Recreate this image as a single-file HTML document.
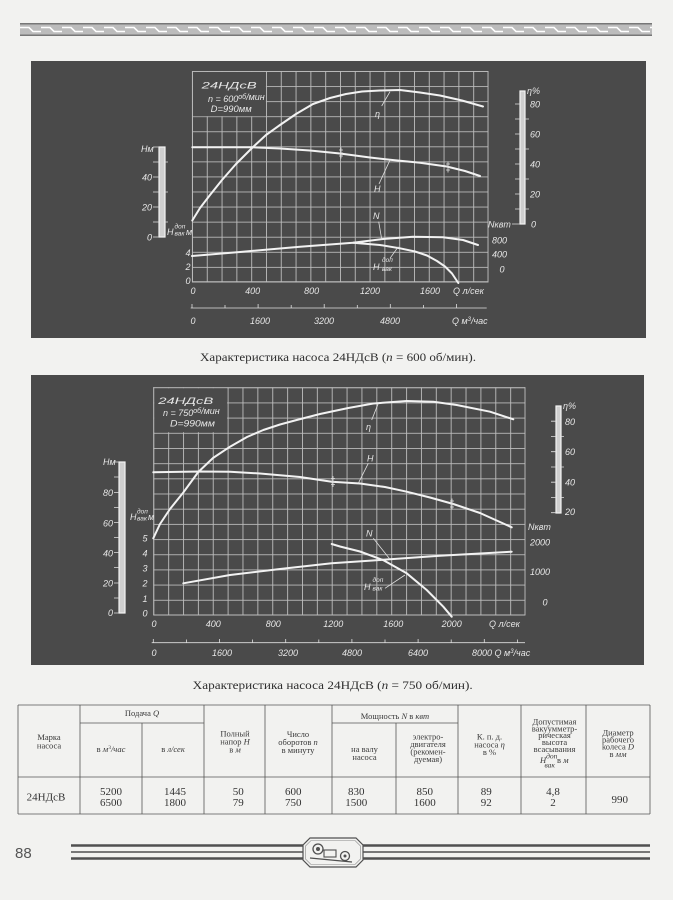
<!DOCTYPE html>
<html><head><meta charset="utf-8">
<style>
html,body{margin:0;padding:0;background:#f2f2f0;}
svg{display:block}
.ct{fill:#e6e6e6;font-family:"Liberation Sans",sans-serif;font-style:italic;font-size:9px;}
.cs{fill:#e6e6e6;font-family:"Liberation Sans",sans-serif;font-style:italic;font-size:6.5px;}
.tb{fill:#3a3a3a;font-family:"Liberation Serif",serif;font-size:8.5px;}
.td{fill:#333;font-family:"Liberation Serif",serif;font-size:11px;}
.cap{fill:#2e2e2e;font-family:"Liberation Serif",serif;font-size:12px;}
.cv{fill:none;stroke:#f2f2f2;stroke-width:2;stroke-linejoin:round;stroke-linecap:round;}
.ld{fill:none;stroke:#e0e0e0;stroke-width:0.8;}
.gl{stroke:#bdbdbd;stroke-width:0.9;fill:none;}
.tl{stroke:#555;stroke-width:0.8;}
</style></head><body>
<svg width="673" height="900" viewBox="0 0 673 900" xmlns="http://www.w3.org/2000/svg">
<defs>
<pattern id="chain" x="20" y="23" width="21" height="13" patternUnits="userSpaceOnUse">
<path d="M0 4.5 H9 L13 8.5 H21" stroke="#ffffff" stroke-width="1.6" fill="none"/>
</pattern>
<pattern id="g1" x="192" y="71" width="14.8" height="15.07" patternUnits="userSpaceOnUse">
<path d="M0 0.45 H14.8 M0.45 0 V15.07" stroke="#bdbdbd" stroke-width="0.9" fill="none"/>
</pattern>
<pattern id="g2" x="153.3" y="387.3" width="14.87" height="15.18" patternUnits="userSpaceOnUse">
<path d="M0 0.45 H14.87 M0.45 0 V15.18" stroke="#bdbdbd" stroke-width="0.9" fill="none"/>
</pattern>
</defs>

<!-- top border -->
<rect x="20" y="23" width="632" height="13" fill="#bcbcbc"/>
<rect x="20" y="23" width="632" height="13" fill="url(#chain)"/>
<line x1="20" y1="23.8" x2="652" y2="23.8" stroke="#777" stroke-width="1.5"/>
<line x1="20" y1="35.2" x2="652" y2="35.2" stroke="#777" stroke-width="1.5"/>

<!-- ================= PANEL 1 ================= -->
<rect x="31" y="61" width="615" height="277" fill="#4a4a4a"/>
<rect x="192" y="71" width="296.5" height="211.5" fill="url(#g1)"/>
<rect x="192.9" y="71.9" width="73" height="44.3" fill="#4a4a4a"/>
<line class="gl" x1="488" y1="71" x2="488" y2="282"/>
<line class="gl" x1="192" y1="281.7" x2="488.5" y2="281.7"/>
<line class="gl" x1="192.4" y1="71" x2="192.4" y2="282"/>
<line class="gl" x1="192" y1="71.4" x2="488" y2="71.4"/>

<text class="ct" x="201.7" y="88.5" font-size="15" textLength="55" lengthAdjust="spacingAndGlyphs">24НДсВ</text>
<text class="ct" x="208" y="102">n = 600<tspan font-size="7" dy="-3">об</tspan><tspan dy="1">/мин</tspan></text>
<text class="ct" x="210.7" y="112" textLength="41" lengthAdjust="spacingAndGlyphs">D=990мм</text>

<!-- H bar -->
<rect x="159" y="147" width="6" height="90" fill="#cfcfcf" stroke="#f4f4f4" stroke-width="1.2"/>
<path class="ld" stroke-width="1" d="M153 147H159 M153 162H159 M153 177H159 M153 192H159 M153 207H159 M153 222H159 M153 237H159 M165 162H168 M165 192H168 M165 222H168"/>
<text class="ct" x="141" y="152">Нм</text>
<text class="ct" x="152" y="180.5" text-anchor="end">40</text>
<text class="ct" x="152" y="210.5" text-anchor="end">20</text>
<text class="ct" x="152" y="240.5" text-anchor="end">0</text>
<text class="ct" x="167" y="235">H</text>
<text class="cs" x="174.5" y="228.5">доп</text>
<text class="cs" x="174.5" y="235.5">вак</text>
<text class="ct" x="186" y="235" font-size="7.5">м</text>
<text class="ct" x="188" y="256" text-anchor="middle">4</text>
<text class="ct" x="188" y="270" text-anchor="middle">2</text>
<text class="ct" x="188" y="284" text-anchor="middle">0</text>

<!-- eta bar -->
<rect x="520" y="91" width="5" height="133" fill="#cfcfcf" stroke="#f4f4f4" stroke-width="1.2"/>
<path class="ld" stroke-width="1" d="M515 224H520 M515 209H520 M515 194H520 M515 179H520 M515 164H520 M515 149H520 M515 134H520 M515 119H520 M515 104H520 M525 209H529 M525 179H529 M525 149H529 M525 119H529 M512 224H520"/>
<text class="ct" x="527" y="94">η%</text>
<text class="ct" x="530" y="107.5">80</text>
<text class="ct" x="530" y="137.5">60</text>
<text class="ct" x="530" y="167.5">40</text>
<text class="ct" x="530" y="197.5">20</text>
<text class="ct" x="531" y="227.5">0</text>
<text class="ct" x="488" y="227.5">Nквт</text>
<text class="ct" x="499.5" y="243.5" text-anchor="middle">800</text>
<text class="ct" x="499.5" y="257.5" text-anchor="middle">400</text>
<text class="ct" x="502" y="272.5" text-anchor="middle">0</text>

<!-- Q axes -->
<text class="ct" x="193" y="294" text-anchor="middle">0</text>
<text class="ct" x="252.7" y="294" text-anchor="middle">400</text>
<text class="ct" x="311.7" y="294" text-anchor="middle">800</text>
<text class="ct" x="370" y="294" text-anchor="middle">1200</text>
<text class="ct" x="430" y="294" text-anchor="middle">1600</text>
<text class="ct" x="453" y="294">Q л/сек</text>
<line class="ld" stroke-width="1" x1="190.7" y1="308" x2="486.7" y2="308"/>
<path class="ld" stroke-width="1" d="M192 304V308 M225 305V308 M258.1 304V308 M291.2 305V308 M324.2 304V308 M357.3 305V308 M390.3 304V308 M423.4 305V308 M456.4 304V308"/>
<text class="ct" x="193" y="324" text-anchor="middle">0</text>
<text class="ct" x="260" y="324" text-anchor="middle">1600</text>
<text class="ct" x="324" y="324" text-anchor="middle">3200</text>
<text class="ct" x="390" y="324" text-anchor="middle">4800</text>
<text class="ct" x="452" y="324">Q м<tspan font-size="6" dy="-3">3</tspan><tspan dy="3">/час</tspan></text>

<!-- curves chart 1 -->
<path class="cv" d="M192.3 220.5 L200 208 L210 195 L222 180 L236 164 L252 148 L266 135 L280 125 L296 114 L313 104 L330 98 L346 94 L362 91.5 L380 90.5 L400 90 L420 92.5 L440 95.5 L462 100.5 L483 106.5"/>
<path class="cv" d="M192.3 147.3 L252 147.3 L280 148.5 L310 150.5 L340 153.5 L370 157.5 L390 159.8 L420 162.8 L446.7 166.5 L465 171 L480 176"/>
<path class="cv" d="M192 256 L240 252 L300 246.7 L353 242.7 L383 239 L413 236.7 L443 237.3 L463 240 L478 245"/>
<path class="cv" d="M353 242.7 L380 245 L400 248.3 L415 251.5 L427 255.5 L437 261 L445 266.5 L452 273.5 L458.3 283"/>
<path class="ld" d="M341 147.5V158.5 M339 150H343 M339 153H343 M339 156H343 M448 161.5V172.5 M446 164H450 M446 167H450 M446 170H450"/>
<text class="ct" x="375" y="117">η</text>
<path class="ld" d="M381.7 106 L390 91.7"/>
<text class="ct" x="374" y="192">H</text>
<path class="ld" d="M379 184 L390 160"/>
<text class="ct" x="373" y="219">N</text>
<path class="ld" d="M378.7 221.7 L381.7 239.3"/>
<text class="ct" x="373" y="270">H</text>
<text class="cs" x="382" y="262">доп</text>
<text class="cs" x="382" y="271">вак</text>
<path class="ld" d="M390 258.3 L398.3 246.7"/>

<!-- caption 1 -->
<text class="cap" x="200" y="361" textLength="276" lengthAdjust="spacingAndGlyphs">Характеристика насоса 24НДсВ (<tspan font-style="italic">n</tspan> = 600 об/мин).</text>

<!-- ================= PANEL 2 ================= -->
<rect x="31" y="375" width="613" height="290" fill="#4a4a4a"/>
<rect x="153.3" y="387.3" width="372" height="228" fill="url(#g2)"/>
<rect x="154.2" y="388.2" width="72.9" height="44" fill="#4a4a4a"/>
<line class="gl" x1="525" y1="387.3" x2="525" y2="615"/>
<line class="gl" x1="153.3" y1="615" x2="525.4" y2="615"/>
<line class="gl" x1="153.7" y1="387.3" x2="153.7" y2="615"/>
<line class="gl" x1="153.3" y1="387.7" x2="525" y2="387.7"/>

<text class="ct" x="158.3" y="404" font-size="15" textLength="55" lengthAdjust="spacingAndGlyphs">24НДсВ</text>
<text class="ct" x="163" y="416">n = 750<tspan font-size="7" dy="-3">об</tspan><tspan dy="1">/мин</tspan></text>
<text class="ct" x="170" y="426.5" textLength="45" lengthAdjust="spacingAndGlyphs">D=990мм</text>

<!-- H bar 2 -->
<rect x="119" y="462" width="6" height="151" fill="#cfcfcf" stroke="#f4f4f4" stroke-width="1.2"/>
<path class="ld" stroke-width="1" d="M114 462H119 M114 477H119 M114 492.5H119 M114 507.5H119 M114 522.5H119 M114 537.5H119 M114 552.5H119 M114 567.5H119 M114 583H119 M114 598H119 M114 613H119"/>
<text class="ct" x="103" y="465">Нм</text>
<text class="ct" x="113" y="496" text-anchor="end">80</text>
<text class="ct" x="113" y="526.5" text-anchor="end">60</text>
<text class="ct" x="113" y="556.5" text-anchor="end">40</text>
<text class="ct" x="113" y="586.5" text-anchor="end">20</text>
<text class="ct" x="113" y="616" text-anchor="end">0</text>
<text class="ct" x="130" y="520">H</text>
<text class="cs" x="137" y="513.5">доп</text>
<text class="cs" x="137" y="520.5">вак</text>
<text class="ct" x="148" y="520" font-size="7.5">м</text>
<text class="ct" x="145" y="541.5" text-anchor="middle">5</text>
<text class="ct" x="145" y="556.5" text-anchor="middle">4</text>
<text class="ct" x="145" y="571.5" text-anchor="middle">3</text>
<text class="ct" x="145" y="586.5" text-anchor="middle">2</text>
<text class="ct" x="145" y="602" text-anchor="middle">1</text>
<text class="ct" x="145" y="616.5" text-anchor="middle">0</text>

<!-- eta bar 2 -->
<rect x="556" y="406" width="5" height="107" fill="#cfcfcf" stroke="#f4f4f4" stroke-width="1.2"/>
<path class="ld" stroke-width="1" d="M551 512.7H556 M551 497.5H556 M551 482.2H556 M551 467H556 M551 451.7H556 M551 436.5H556 M551 421.2H556 M561 497.5H564 M561 467H564 M561 436.5H564"/>
<text class="ct" x="563" y="409">η%</text>
<text class="ct" x="565" y="425">80</text>
<text class="ct" x="565" y="455">60</text>
<text class="ct" x="565" y="485.5">40</text>
<text class="ct" x="565" y="515">20</text>
<text class="ct" x="528" y="530">Nквт</text>
<text class="ct" x="540" y="545.5" text-anchor="middle">2000</text>
<text class="ct" x="540" y="575" text-anchor="middle">1000</text>
<text class="ct" x="545" y="605.5" text-anchor="middle">0</text>

<!-- Q axes 2 -->
<text class="ct" x="154" y="627" text-anchor="middle">0</text>
<text class="ct" x="213.3" y="627" text-anchor="middle">400</text>
<text class="ct" x="273.3" y="627" text-anchor="middle">800</text>
<text class="ct" x="333.3" y="627" text-anchor="middle">1200</text>
<text class="ct" x="393.3" y="627" text-anchor="middle">1600</text>
<text class="ct" x="451.7" y="627" text-anchor="middle">2000</text>
<text class="ct" x="489" y="627">Q л/сек</text>
<line class="ld" stroke-width="1" x1="151.7" y1="642.7" x2="525" y2="642.7"/>
<path class="ld" stroke-width="1" d="M153.3 639V642.7 M186.4 639.5V642.7 M219.5 639V642.7 M252.6 639.5V642.7 M285.7 639V642.7 M318.8 639.5V642.7 M351.9 639V642.7 M385 639.5V642.7 M418.1 639V642.7 M451.2 639.5V642.7 M484.3 639V642.7 M517.4 639.5V642.7"/>
<text class="ct" x="154" y="656" text-anchor="middle">0</text>
<text class="ct" x="222" y="656" text-anchor="middle">1600</text>
<text class="ct" x="288" y="656" text-anchor="middle">3200</text>
<text class="ct" x="352" y="656" text-anchor="middle">4800</text>
<text class="ct" x="418" y="656" text-anchor="middle">6400</text>
<text class="ct" x="472" y="656">8000 Q м<tspan font-size="6" dy="-3">3</tspan><tspan dy="3">/час</tspan></text>

<!-- curves chart 2 -->
<path class="cv" d="M153.3 538.3 L160 524 L170 509 L183.3 492.5 L198.3 472 L213 458 L230 446.7 L247 437 L263.3 430 L280 424.5 L296.7 420 L320 414 L348.3 408 L373.3 403.5 L406.7 401 L433.3 401.7 L456.7 405 L490 411.7 L513.3 419.3"/>
<path class="cv" d="M153.3 472.3 L200 471.5 L230 471.7 L260 473.5 L300 477 L331.7 481.7 L360 483.5 L385 487 L406.7 491.7 L430 497.5 L453.3 504 L480 513 L511.7 527.3"/>
<path class="cv" d="M183.3 583.3 L230 575 L280 569 L331.7 563.3 L390 559.3 L440 555.7 L511.7 551.7"/>
<path class="cv" d="M331.7 544 L340 546.5 L360 551.5 L383 560 L406.7 573.3 L426.7 590 L443.3 606.7 L451.7 616.7"/>
<path class="ld" d="M333 476V487 M331 478.5H335 M331 481.5H335 M331 484.5H335 M452 498.5V509.5 M450 501H454 M450 504H454 M450 507H454"/>
<text class="ct" x="366" y="430">η</text>
<path class="ld" d="M371.7 420 L378.3 403.3"/>
<text class="ct" x="367" y="461.5">H</text>
<path class="ld" d="M368.3 463.3 L358.3 483.3"/>
<text class="ct" x="366" y="536.5">N</text>
<path class="ld" d="M373.3 538.3 L390 559.3"/>
<text class="ct" x="364" y="590">H</text>
<text class="cs" x="372.5" y="582">доп</text>
<text class="cs" x="372.5" y="590.5">вак</text>
<path class="ld" d="M385 588.3 L405 575"/>

<!-- caption 2 -->
<text class="cap" x="192.7" y="689" textLength="280" lengthAdjust="spacingAndGlyphs">Характеристика насоса 24НДсВ (<tspan font-style="italic">n</tspan> = 750 об/мин).</text>

<!-- ================= TABLE ================= -->
<line class="tl" x1="18" y1="705" x2="650" y2="705" stroke-width="1"/>
<line class="tl" x1="80" y1="723" x2="204" y2="723" stroke-width="0.6"/>
<line class="tl" x1="332" y1="723" x2="458" y2="723" stroke-width="0.6"/>
<line class="tl" x1="18" y1="777" x2="650" y2="777" stroke-width="1"/>
<line class="tl" x1="18" y1="814" x2="650" y2="814" stroke-width="1.3"/>
<path class="tl" d="M80 705V814 M204 705V814 M265 705V814 M332 705V814 M458 705V814 M521 705V814 M586 705V814 M142 723V814 M396 723V814"/>
<path class="tl" stroke="#999" stroke-width="0.6" d="M18 705V814 M650 705V814"/>

<text class="tb" text-anchor="middle"><tspan x="49" y="740">Марка</tspan><tspan x="49" y="748.5">насоса</tspan></text>
<text class="tb" x="142" y="716" text-anchor="middle">Подача <tspan font-style="italic">Q</tspan></text>
<text class="tb" x="111" y="752" text-anchor="middle">в <tspan font-style="italic">м</tspan><tspan font-size="5.5" dy="-3">3</tspan><tspan dy="3" font-style="italic">/час</tspan></text>
<text class="tb" x="173" y="752" text-anchor="middle">в <tspan font-style="italic">л/сек</tspan></text>
<text class="tb" text-anchor="middle"><tspan x="235" y="736.5">Полный</tspan><tspan x="235" y="744.5">напор <tspan font-style="italic">H</tspan></tspan><tspan x="235" y="752.5">в <tspan font-style="italic">м</tspan></tspan></text>
<text class="tb" text-anchor="middle"><tspan x="298" y="737">Число</tspan><tspan x="298" y="745">оборотов <tspan font-style="italic">n</tspan></tspan><tspan x="298" y="753">в минуту</tspan></text>
<text class="tb" x="395" y="719" text-anchor="middle">Мощность <tspan font-style="italic">N</tspan> в <tspan font-style="italic">квт</tspan></text>
<text class="tb" text-anchor="middle"><tspan x="364.5" y="752">на валу</tspan><tspan x="364.5" y="760">насоса</tspan></text>
<text class="tb" text-anchor="middle"><tspan x="428" y="739.5">электро-</tspan><tspan x="428" y="747">двигателя</tspan><tspan x="428" y="754.5">(рекомен-</tspan><tspan x="428" y="762">дуемая)</tspan></text>
<text class="tb" text-anchor="middle"><tspan x="489.5" y="739.5">К. п. д.</tspan><tspan x="489.5" y="747.5">насоса <tspan font-style="italic">η</tspan></tspan><tspan x="489.5" y="755">в %</tspan></text>
<text class="tb" text-anchor="middle"><tspan x="554.5" y="724.5">Допустимая</tspan><tspan x="554.5" y="731.5">вакуумметр-</tspan><tspan x="554.5" y="738">рическая</tspan><tspan x="554.5" y="745">высота</tspan><tspan x="554.5" y="752">всасывания</tspan></text>
<text class="tb" x="540" y="763"><tspan font-style="italic">H</tspan><tspan font-style="italic" font-size="7.5" dy="-4.5">доп</tspan><tspan font-style="italic" font-size="7.5" dx="-13" dy="9">вак</tspan><tspan dy="-4.5"> в </tspan><tspan font-style="italic">м</tspan></text>
<text class="tb" text-anchor="middle"><tspan x="618" y="735.5">Диаметр</tspan><tspan x="618" y="742.5">рабочего</tspan><tspan x="618" y="749.5">колеса <tspan font-style="italic">D</tspan></tspan><tspan x="618" y="757">в <tspan font-style="italic">мм</tspan></tspan></text>

<text class="td" x="46" y="800.5" text-anchor="middle">24НДсВ</text>
<text class="td" text-anchor="middle"><tspan x="111" y="795">5200</tspan><tspan x="111" y="806">6500</tspan></text>
<text class="td" text-anchor="middle"><tspan x="175" y="795">1445</tspan><tspan x="175" y="806">1800</tspan></text>
<text class="td" text-anchor="middle"><tspan x="238.3" y="795">50</tspan><tspan x="238.3" y="806">79</tspan></text>
<text class="td" text-anchor="middle"><tspan x="293.3" y="795">600</tspan><tspan x="293.3" y="806">750</tspan></text>
<text class="td" text-anchor="middle"><tspan x="356.3" y="795">830</tspan><tspan x="356.3" y="806">1500</tspan></text>
<text class="td" text-anchor="middle"><tspan x="424.7" y="795">850</tspan><tspan x="424.7" y="806">1600</tspan></text>
<text class="td" text-anchor="middle"><tspan x="486.3" y="795">89</tspan><tspan x="486.3" y="806">92</tspan></text>
<text class="td" text-anchor="middle"><tspan x="553" y="795">4,8</tspan><tspan x="553" y="806">2</tspan></text>
<text class="td" x="619.7" y="803" text-anchor="middle">990</text>

<!-- ================= FOOTER ================= -->
<text x="15" y="858" fill="#555" font-family="Liberation Sans, sans-serif" font-size="15">88</text>
<path d="M71 845.5H303 M363 845.5H650 M71 858.5H303 M363 858.5H650" stroke="#505050" stroke-width="2.6"/>
<path d="M71 852H303 M363 852H650" stroke="#505050" stroke-width="1.4"/>
<polygon points="310,838 356,838 363,845 363,860 356,867 310,867 303,860 303,845" fill="#f2f2f0" stroke="#505050" stroke-width="1.2"/>
<polygon points="311,840.5 355,840.5 360.5,846 360.5,859 355,864.5 311,864.5 305.5,859 305.5,846" fill="none" stroke="#888" stroke-width="0.6"/>
<circle cx="318" cy="849" r="5" fill="none" stroke="#505050" stroke-width="1.3"/>
<circle cx="318" cy="849" r="2" fill="#505050"/>
<rect x="324" y="850" width="12" height="7" fill="none" stroke="#505050" stroke-width="1.1"/>
<circle cx="345" cy="856" r="4.5" fill="none" stroke="#505050" stroke-width="1.3"/>
<circle cx="345" cy="856" r="1.5" fill="#505050"/>
<path d="M310 858 L352 862" stroke="#505050" stroke-width="1.2"/>
</svg>
</body></html>
